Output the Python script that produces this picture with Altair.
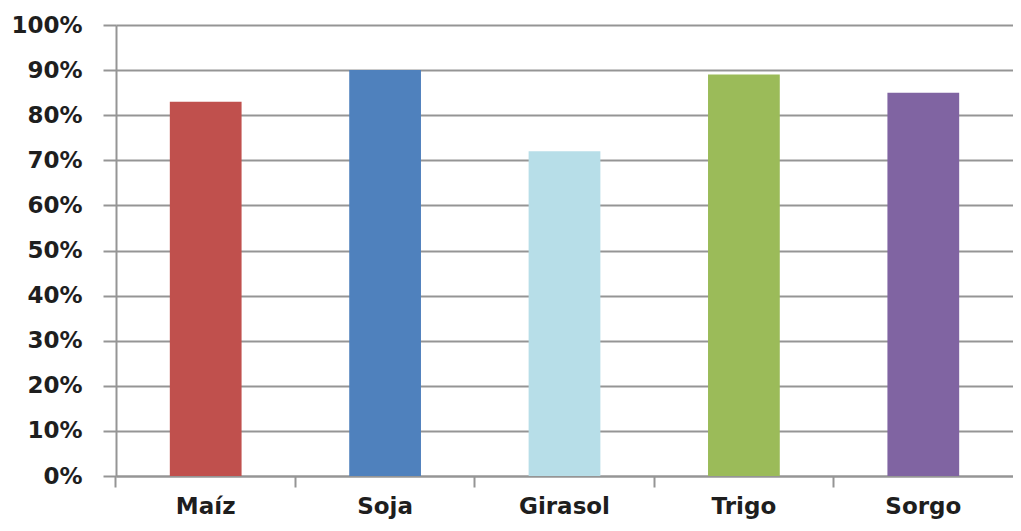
import altair as alt
import pandas as pd

crops = ["Maíz", "Soja", "Girasol", "Trigo", "Sorgo"]
shares = [0.83, 0.90, 0.72, 0.89, 0.85]
colors = ["#C0504D", "#4F81BD", "#B7DEE8", "#9BBB59", "#8064A2"]
y_ticks = [0.0, 0.1, 0.2, 0.3, 0.4, 0.5, 0.6, 0.7, 0.8, 0.9, 1.0]

df = pd.DataFrame({"crop": crops, "share": shares})

line_color = "#959595"
font = "DejaVu Sans"

chart = alt.Chart(df).mark_bar().encode(
    x=alt.X(
        "crop:N",
        sort=crops,
        scale=alt.Scale(paddingInner=0.6, paddingOuter=0.3),
        axis=alt.Axis(
            title=None, labelAngle=0, bandPosition=-0.75, ticks=True, tickSize=11,
            tickColor=line_color, tickWidth=2, grid=False, domain=True,
            domainColor=line_color, domainWidth=2, labelPadding=8,
            labelFont=font, labelFontSize=23, labelFontWeight="bold",
            labelColor="#1e1e1e",
        ),
    ),
    y=alt.Y(
        "share:Q",
        scale=alt.Scale(domain=[0, 1]),
        axis=alt.Axis(
            title=None, values=y_ticks, format=".0%", grid=True,
            gridColor=line_color, gridWidth=2, tickSize=13, tickColor=line_color,
            tickWidth=2, domain=True, domainColor=line_color, domainWidth=2,
            labelPadding=21, labelFont=font, labelFontSize=23,
            labelFontWeight="bold", labelColor="#1e1e1e",
        ),
    ),
    color=alt.Color("crop:N", scale=alt.Scale(domain=crops, range=colors), legend=None),
).properties(
    width=897,
    height=451,
    padding={"left": 108, "top": 17, "right": 0, "bottom": 47},
    autosize=alt.AutoSizeParams(type="none"),
).configure_view(stroke=None)

chart.save("out.html", embed_options={"renderer": "svg", "actions": False})
